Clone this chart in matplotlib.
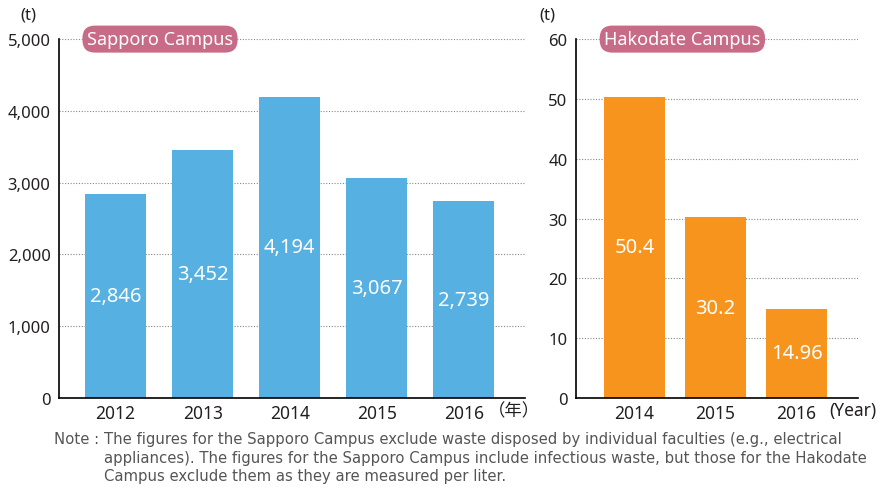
import matplotlib.pyplot as plt

plt.rcParams['font.family'] = ['Noto Sans', 'Noto Sans CJK JP']

# data
sap_years = ['2012', '2013', '2014', '2015', '2016']
sap_vals = [2846, 3452, 4194, 3067, 2739]
sap_labels = ['2,846', '3,452', '4,194', '3,067', '2,739']

hak_years = ['2014', '2015', '2016']
hak_vals = [50.4, 30.2, 14.96]
hak_labels = ['50.4', '30.2', '14.96']

note_lines = [
    'The figures for the Sapporo Campus exclude waste disposed by individual faculties (e.g., electrical',
    'appliances). The figures for the Sapporo Campus include infectious waste, but those for the Hakodate',
    'Campus exclude them as they are measured per liter.',
]

blue = '#56B0E1'
orange = '#F7941E'
pink = '#C86B87'
txt = '#231F20'

fig = plt.figure(figsize=(8.82, 4.89), dpi=100)
ax1 = fig.add_axes([0.0669, 0.184, 0.528, 0.734])
ax2 = fig.add_axes([0.653, 0.184, 0.320, 0.734])

ylab_y = -0.034   # axes fraction for x tick label centres


def style(ax, ymax, step, fmt):
    ax.set_ylim(0, ymax)
    ticks = list(range(0, ymax + 1, step))
    ax.set_yticks(ticks)
    ax.set_yticklabels([fmt(t) for t in ticks])
    for t in ticks[1:]:
        ax.axhline(t, color='#888888', lw=0.8, ls=(0, (1, 1.5)), zorder=0)
    for s in ['top', 'right']:
        ax.spines[s].set_visible(False)
    ax.spines['left'].set_linewidth(1.2)
    ax.spines['bottom'].set_linewidth(1.2)
    ax.tick_params(length=0, labelsize=12, colors=txt, pad=6)
    ax.tick_params(axis='x', labelsize=12.5, pad=4)


def title(ax, x, text):
    ax.text(x, 1.0, text, transform=ax.transAxes, ha='left', va='center',
            fontsize=13, color='white', zorder=5,
            bbox=dict(boxstyle='round,pad=0.25,rounding_size=0.7', fc=pink, ec='none'))


# Sapporo
x1 = range(len(sap_years))
ax1.bar(x1, sap_vals, width=0.7, color=blue, zorder=2)
for i, v in enumerate(sap_vals):
    ax1.text(i, v / 2, sap_labels[i], ha='center', va='center', color='white', fontsize=14.5)
ax1.set_xlim(-0.65, 4.7)
ax1.set_xticks(list(x1))
ax1.set_xticklabels(sap_years)
style(ax1, 5000, 1000, lambda t: f'{t:,}')
title(ax1, 0.06, 'Sapporo Campus')
ax1.text(-0.065, 1.045, '(t)', transform=ax1.transAxes, ha='center', va='bottom',
         fontsize=12, color=txt)
ax1.text(4.28, ylab_y, '（年）', transform=ax1.get_xaxis_transform(), ha='left', va='center',
         fontsize=12.5, color=txt)

# Hakodate
x2 = range(len(hak_years))
ax2.bar(x2, hak_vals, width=0.75, color=orange, zorder=2)
for i, v in enumerate(hak_vals):
    ax2.text(i, v / 2, hak_labels[i], ha='center', va='center', color='white', fontsize=14.5)
ax2.set_xlim(-0.72, 2.76)
ax2.set_xticks(list(x2))
ax2.set_xticklabels(hak_years)
style(ax2, 60, 10, lambda t: f'{t}')
title(ax2, 0.1, 'Hakodate Campus')
ax2.text(-0.1, 1.045, '(t)', transform=ax2.transAxes, ha='center', va='bottom',
         fontsize=12, color=txt)
ax2.text(2.4, ylab_y, '(Year)', transform=ax2.get_xaxis_transform(), ha='left', va='center',
         fontsize=12.5, color=txt)

# note
note_c = '#555555'
note_font = dict(fontsize=10.7, color=note_c, va='center', family='DejaVu Sans')
fig.text(99 / 882, 1 - 440 / 489, 'Note :', ha='right', **note_font)
for k, line in enumerate(note_lines):
    fig.text(104 / 882, 1 - (440 + 18.5 * k) / 489, line, ha='left', **note_font)

fig.savefig('out.png', dpi=100)
